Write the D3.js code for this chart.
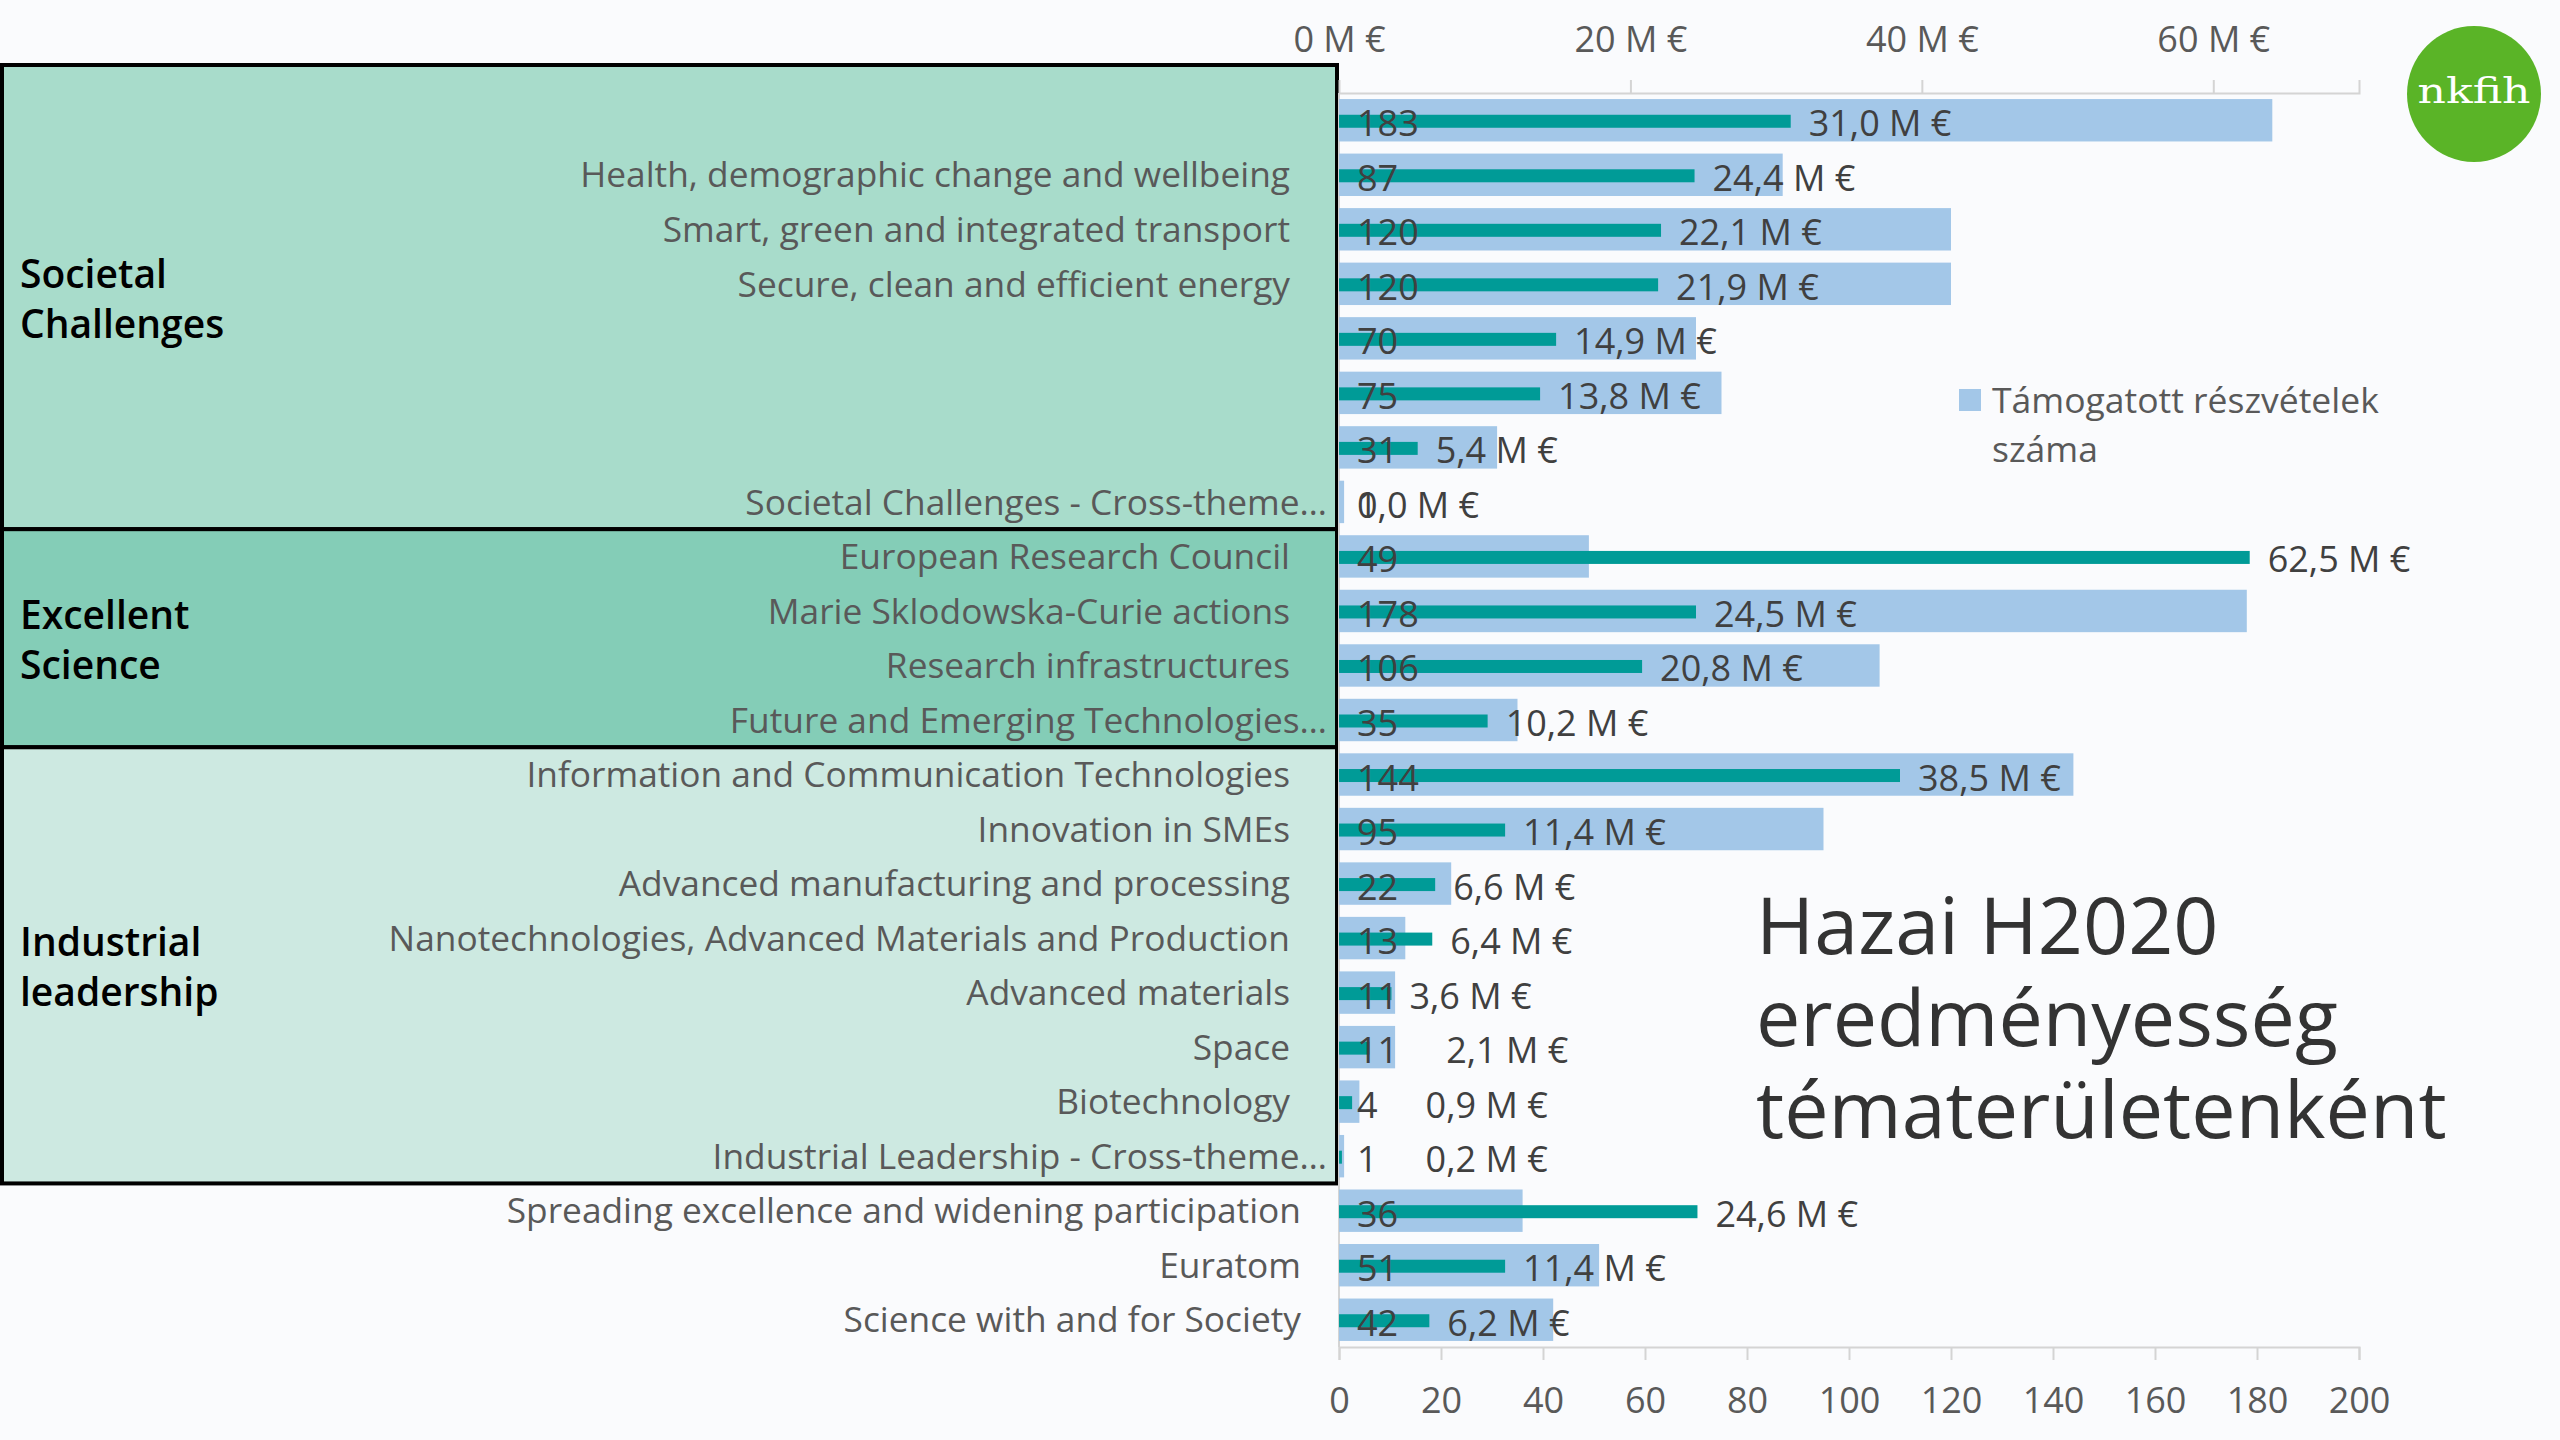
<!DOCTYPE html>
<html>
<head>
<meta charset="utf-8">
<script src="https://cdn.jsdelivr.net/npm/d3@7"></script>
<style>
  html, body { margin: 0; padding: 0; background: #fafbfd; }
  svg { display: block; font-family: "Open Sans", "Noto Sans", sans-serif; }
</style>
</head>
<body>
<svg id="chart" width="2560" height="1440"></svg>
<script>
// ---------- data ----------
const categories = [
  "",
  "Health, demographic change and wellbeing",
  "Smart, green and integrated transport",
  "Secure, clean and efficient energy",
  "",
  "",
  "",
  "Societal Challenges - Cross-theme…",
  "European Research Council",
  "Marie Sklodowska-Curie actions",
  "Research infrastructures",
  "Future and Emerging Technologies…",
  "Information and Communication Technologies",
  "Innovation in SMEs",
  "Advanced manufacturing and processing",
  "Nanotechnologies, Advanced Materials and Production",
  "Advanced materials",
  "Space",
  "Biotechnology",
  "Industrial Leadership - Cross-theme…",
  "Spreading excellence and widening participation",
  "Euratom",
  "Science with and for Society"
];
const participations = [183, 87, 120, 120, 70, 75, 31, 1, 49, 178, 106, 35, 144, 95, 22, 13, 11, 11, 4, 1, 36, 51, 42];
const fundingMEur = [31.0, 24.4, 22.1, 21.9, 14.9, 13.8, 5.4, 0.0, 62.5, 24.5, 20.8, 10.2, 38.5, 11.4, 6.6, 6.4, 3.6, 2.1, 0.9, 0.2, 24.6, 11.4, 6.2];
const groupNames = [["Societal", "Challenges"], ["Excellent", "Science"], ["Industrial", "leadership"]];
const groupFirst = [0, 8, 12];
const groupLast = [7, 11, 19];
const participationTicks = [0, 20, 40, 60, 80, 100, 120, 140, 160, 180, 200];
const fundingTicks = [0, 20, 40, 60];
const legendLabel = ["Támogatott részvételek", "száma"];
const titleLines = ["Hazai H2020", "eredményesség", "tématerületenként"];

// ---------- layout ----------
const svg = d3.select("#chart");
const X0 = 1339, X1 = 2359, Y0 = 93, Y1 = 1347;
const groupFills = ["#a8dccb", "#84cdb7", "#cde9e1"];
const blue = "#a3c7e8", teal = "#009b97";

const xP = d3.scaleLinear().domain([0, 200]).range([X0, X1]);
const xF = d3.scaleLinear().domain([0, 70]).range([X0, X1]);
const y = d3.scaleBand().domain(d3.range(categories.length)).range([Y0, Y1])
  .paddingInner(0.222).paddingOuter(0.111);
const step = y.step(), bw = y.bandwidth();
const rowTop = i => y(i) - (step - bw) / 2;

// background
svg.append("rect").attr("width", 2560).attr("height", 1440).attr("fill", "#fafbfd");

// group boxes
const gBoxes = svg.append("g");
groupNames.forEach((name, g) => {
  const top = g === 0 ? 65 : rowTop(groupFirst[g]);
  const bottom = rowTop(groupLast[g]) + step;
  gBoxes.append("rect")
    .attr("x", 2).attr("y", top)
    .attr("width", X0 - 4).attr("height", bottom - top)
    .attr("fill", groupFills[g]).attr("stroke", "#000").attr("stroke-width", 4);
  const mid = (top + bottom) / 2;
  const t = gBoxes.append("text").attr("x", 20).attr("font-size", 39)
    .attr("font-weight", 600).attr("fill", "#000");
  name.forEach((ln, k) => {
    t.append("tspan").attr("x", 20).attr("y", mid + (k - 0.5) * 50 + 16).text(ln);
  });
});

// category labels
const ungroupedStart = groupLast[groupLast.length - 1] + 1;
svg.append("g").selectAll("text").data(categories).join("text")
  .attr("x", (d, i) => d.endsWith("…") ? X0 - 12 : (i >= ungroupedStart ? X0 - 38 : X0 - 49))
  .attr("y", (d, i) => y(i) + bw / 2)
  .attr("dy", "0.36em")
  .attr("text-anchor", "end")
  .attr("font-size", 35.3)
  .attr("fill", "#595959")
  .text(d => d);

// axes
const axTop = svg.append("g").attr("transform", `translate(0,${Y0})`)
  .call(d3.axisTop(xF).tickValues(fundingTicks).tickSizeOuter(0).tickSize(13).tickPadding(28)
    .tickFormat(d => d + " M €"));
const axBot = svg.append("g").attr("transform", `translate(0,${Y1})`)
  .call(d3.axisBottom(xP).tickValues(participationTicks).tickSizeOuter(0).tickSize(13).tickPadding(27));
[axTop, axBot].forEach(a => {
  a.select(".domain").attr("stroke", "#d4d4d4").attr("stroke-width", 2);
  a.selectAll(".tick line").attr("stroke", "#d4d4d4").attr("stroke-width", 2);
  a.selectAll(".tick text").attr("font-size", 36).attr("fill", "#595959")
    .attr("font-family", "'Open Sans', 'Noto Sans', sans-serif");
});
axTop.select(".tick line").attr("opacity", 0);
svg.append("line").attr("x1", X0).attr("x2", X0).attr("y1", Y0).attr("y2", Y1)
  .attr("stroke", "#d4d4d4").attr("stroke-width", 2);

// participation bars
svg.append("g").selectAll("rect").data(participations).join("rect")
  .attr("x", X0).attr("y", (d, i) => y(i))
  .attr("width", d => xP(d) - X0).attr("height", bw)
  .attr("fill", blue);

// funding bars
const tealH = 13;
svg.append("g").selectAll("rect").data(fundingMEur).join("rect")
  .attr("x", X0).attr("y", (d, i) => y(i) + bw / 2 - tealH / 2 + 1)
  .attr("width", d => xF(d) - X0).attr("height", tealH)
  .attr("fill", teal);

// participation labels
const pLabels = svg.append("g").selectAll("text").data(participations).join("text")
  .attr("x", X0 + 18).attr("y", (d, i) => y(i) + bw / 2 + 16)
  .attr("font-size", 36).attr("fill", "#404040")
  .text(d => d);
const pEnds = [];
pLabels.each(function (d, i) { pEnds[i] = X0 + 18 + this.getComputedTextLength(); });

// funding labels
const fmt = v => v.toFixed(1).replace(".", ",") + " M €";
svg.append("g").selectAll("text").data(fundingMEur).join("text")
  .attr("x", (d, i) => {
    let x = xF(d) + 18;
    if (d > 0 && x < pEnds[i] + 8) x = Math.max(x, pEnds[i] + 48);
    return x;
  })
  .attr("y", (d, i) => y(i) + bw / 2 + 16)
  .attr("font-size", 36).attr("fill", "#404040")
  .text(d => fmt(d));

// legend
svg.append("rect").attr("x", 1959).attr("y", 389).attr("width", 22).attr("height", 22).attr("fill", blue);
const lg = svg.append("text").attr("font-size", 35.5).attr("fill", "#595959");
legendLabel.forEach((ln, k) => lg.append("tspan").attr("x", 1992).attr("y", 413 + k * 49).text(ln));

// title
const tt = svg.append("text").attr("font-size", 79).attr("fill", "#333333");
titleLines.forEach((ln, k) => tt.append("tspan").attr("x", 1756).attr("y", 954 + k * 92).text(ln));

// logo
svg.append("ellipse").attr("cx", 2474).attr("cy", 94).attr("rx", 67).attr("ry", 68).attr("fill", "#5ab427");
svg.append("text").attr("x", 2474).attr("y", 103).attr("text-anchor", "middle")
  .attr("font-family", "'DejaVu Serif', serif").attr("font-size", 36).attr("fill", "#ffffff")
  .attr("textLength", 113).attr("lengthAdjust", "spacingAndGlyphs")
  .text("nkfih");
</script>
</body>
</html>
